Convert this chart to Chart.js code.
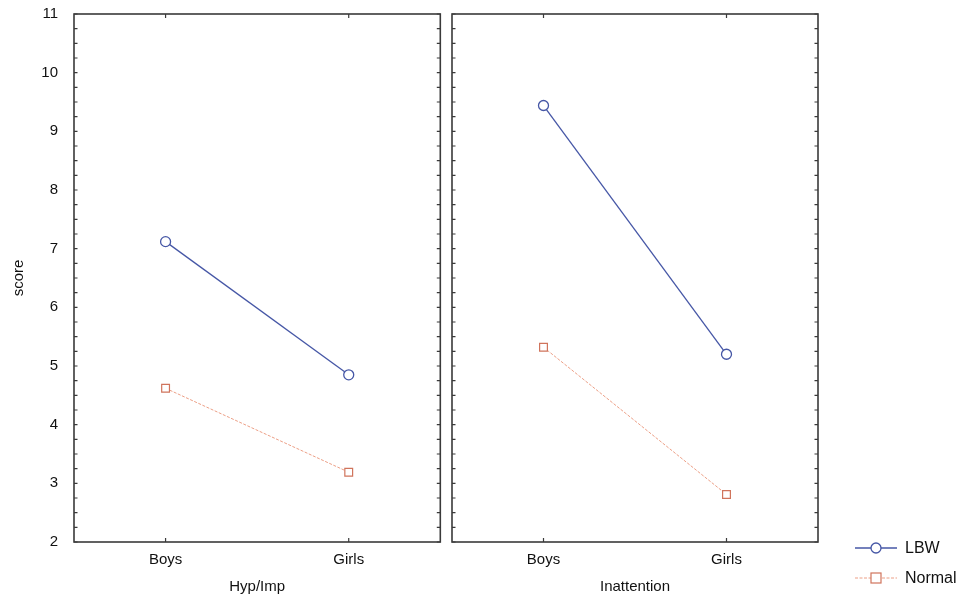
<!DOCTYPE html>
<html>
<head>
<meta charset="utf-8">
<script src="https://cdn.jsdelivr.net/npm/chart.js@4/dist/chart.umd.min.js"></script>
<style>
  html, body { margin: 0; padding: 0; background: #fff; overflow: hidden; }
  #wrap { position: relative; width: 977px; height: 602px; overflow: hidden; }
  #c1 { position: absolute; left: 0; top: -11px; }
  #c2 { position: absolute; left: 442px; top: 0; }
</style>
</head>
<body>
<div id="wrap">
  <canvas id="c2" width="535" height="602"></canvas>
  <canvas id="c1" width="447" height="613"></canvas>
</div>
<script>
// ---- data ----
const categories = ['Boys', 'Girls'];
const seriesNames = ['LBW', 'Normal'];
const hypImpLBW = [7.12, 4.85];
const hypImpNormal = [4.62, 3.19];
const inattentionLBW = [9.44, 5.20];
const inattentionNormal = [5.32, 2.81];
const panelTitles = ['Hyp/Imp', 'Inattention'];
const yMin = 2, yMax = 11, yStep = 1, yMinorStep = 0.25;
const yTitle = 'score';

// ---- styles ----
const FONT = '"Liberation Sans", Arial, sans-serif';
const BLUE = '#4657a6';
const ORANGE_LINE = '#ec9f86';
const ORANGE_PT = '#d0745c';
const FRAME = '#3a3a3a';

function makeDatasets(lbw, normal) {
  return [
    { label: seriesNames[0], data: lbw, borderColor: BLUE, borderWidth: 1.3,
      pointStyle: 'circle', pointRadius: 5, pointBorderWidth: 1.3,
      pointBackgroundColor: '#fff', pointBorderColor: BLUE, tension: 0 },
    { label: seriesNames[1], data: normal, borderColor: ORANGE_LINE, borderWidth: 1,
      borderDash: [3, 1.5],
      pointStyle: 'rect', pointRadius: 5.5, pointBorderWidth: 1.2,
      pointBackgroundColor: '#fff', pointBorderColor: ORANGE_PT, tension: 0 }
  ];
}

const framePlugin = {
  id: 'frame',
  beforeDatasetsDraw(chart) {
    const { ctx, chartArea: a, scales } = chart;
    ctx.save();
    ctx.strokeStyle = FRAME;
    ctx.lineWidth = 1.6;
    ctx.strokeRect(a.left, a.top, a.right - a.left, a.bottom - a.top);
    ctx.lineWidth = 1.2;
    ctx.beginPath();
    const y = scales.y;
    for (let v = yMin; v <= yMax + 1e-9; v += yMinorStep) {
      const py = y.getPixelForValue(v);
      const len = 3.5;
      ctx.moveTo(a.left, py); ctx.lineTo(a.left + len, py);
      ctx.moveTo(a.right, py); ctx.lineTo(a.right - len, py);
    }
    const x = scales.x;
    categories.forEach((c, i) => {
      const px = x.getPixelForValue(i);
      ctx.moveTo(px, a.bottom); ctx.lineTo(px, a.bottom - 4);
      ctx.moveTo(px, a.top); ctx.lineTo(px, a.top + 4);
    });
    ctx.stroke();
    ctx.restore();
  }
};

const legendPlugin = {
  id: 'customLegend',
  afterDraw(chart) {
    const { ctx, chartArea: a } = chart;
    const ds = chart.data.datasets;
    ctx.save();
    ds.forEach((d, i) => {
      const y0 = 548 + i * 30;
      const x0 = a.right + 37;
      ctx.strokeStyle = d.borderColor;
      ctx.lineWidth = d.borderWidth;
      ctx.setLineDash(d.borderDash || []);
      ctx.beginPath(); ctx.moveTo(x0, y0); ctx.lineTo(x0 + 42, y0); ctx.stroke();
      ctx.setLineDash([]);
      ctx.lineWidth = d.pointBorderWidth;
      ctx.strokeStyle = d.pointBorderColor;
      ctx.fillStyle = '#fff';
      const cx = x0 + 21;
      if (d.pointStyle === 'circle') {
        ctx.beginPath(); ctx.arc(cx, y0, 5, 0, Math.PI * 2); ctx.fill(); ctx.stroke();
      } else {
        ctx.fillRect(cx - 5, y0 - 5, 10, 10); ctx.strokeRect(cx - 5, y0 - 5, 10, 10);
      }
      ctx.fillStyle = '#111';
      ctx.font = '16px ' + FONT;
      ctx.textBaseline = 'middle';
      ctx.textAlign = 'left';
      ctx.fillText(d.label, x0 + 50, y0 + 1);
    });
    ctx.restore();
  }
};

function makeOptions(showY, title, pad) {
  return {
    responsive: false,
    animation: false,
    layout: { padding: pad },
    plugins: { legend: { display: false }, tooltip: { enabled: false } },
    scales: {
      x: {
        type: 'category',
        offset: true,
        grid: { display: false, drawTicks: false },
        border: { display: false },
        ticks: { color: '#111', font: { family: FONT, size: 15 }, padding: 9 },
        title: { display: true, text: title, color: '#111', font: { family: FONT, size: 15 }, padding: { top: 4, bottom: 6 } },
        afterFit(s) { s.height = 60; }
      },
      y: {
        display: showY,
        min: yMin, max: yMax,
        grid: { display: false, drawTicks: false },
        border: { display: false },
        ticks: { stepSize: yStep, color: '#111', font: { family: FONT, size: 15 }, padding: 16 },
        title: { display: true, text: yTitle, color: '#111', font: { family: FONT, size: 15 }, padding: { top: 10, bottom: 0 } },
        afterFit(s) { s.width = showY ? 74 : 0; }
      }
    }
  };
}

const c1 = new Chart(document.getElementById('c1'), {
  type: 'line',
  data: { labels: categories, datasets: makeDatasets(hypImpLBW, hypImpNormal) },
  options: makeOptions(true, panelTitles[0], { top: 5, right: -3, left: 0, bottom: 0 }),
  plugins: [framePlugin]
});

const c2 = new Chart(document.getElementById('c2'), {
  type: 'line',
  data: { labels: categories, datasets: makeDatasets(inattentionLBW, inattentionNormal) },
  options: makeOptions(false, panelTitles[1], { top: 14, right: 159, left: 10, bottom: 0 }),
  plugins: [framePlugin, legendPlugin]
});
</script>
</body>
</html>
